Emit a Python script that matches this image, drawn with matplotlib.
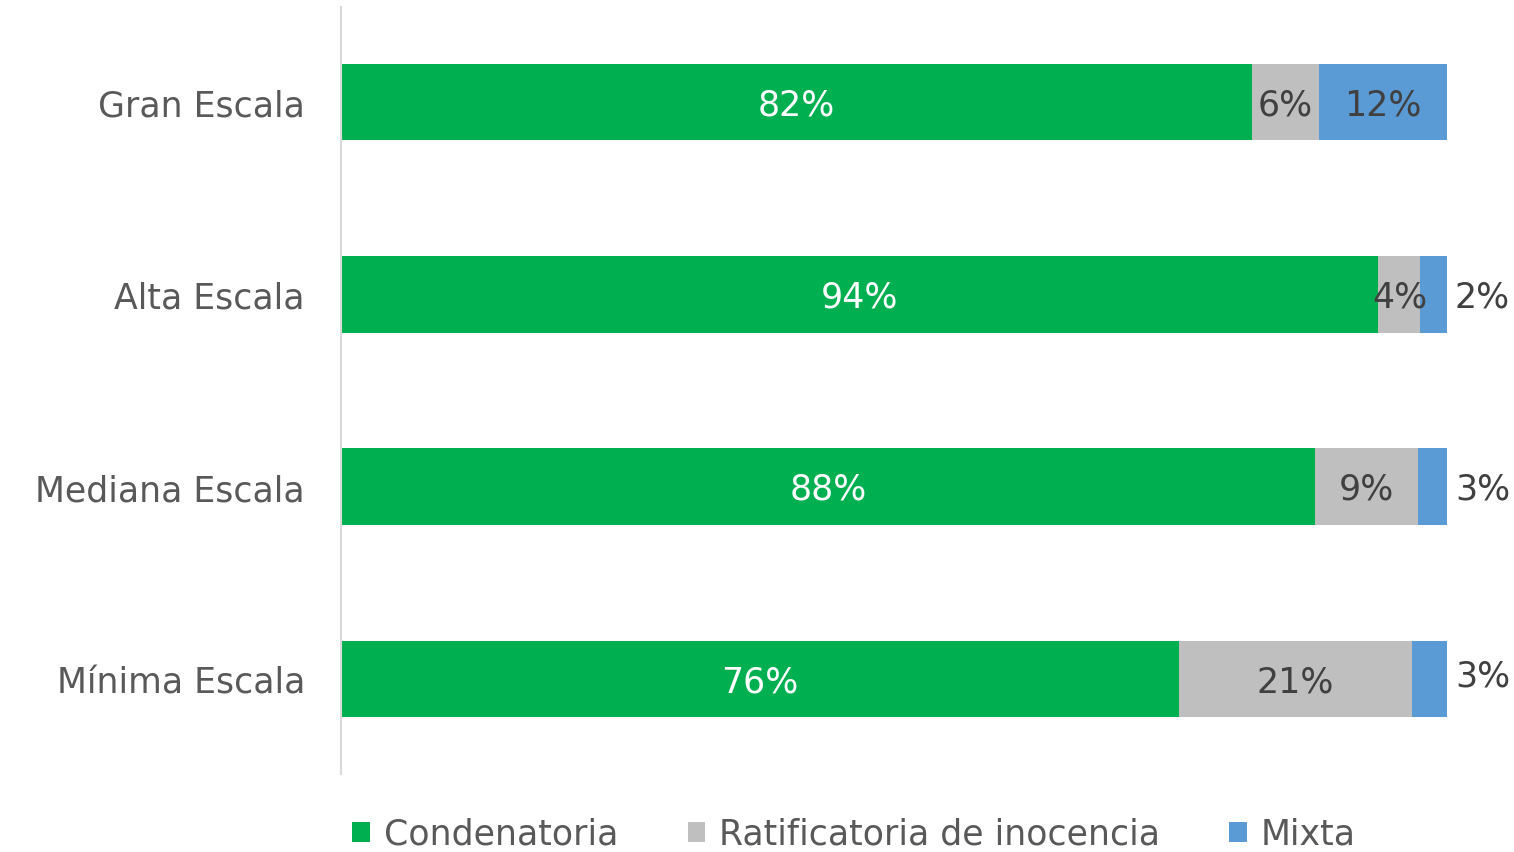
import matplotlib
matplotlib.use("Agg")
import matplotlib.pyplot as plt
from matplotlib.patches import Patch

categories = ["Gran Escala", "Alta Escala", "Mediana Escala", "Mínima Escala"]
series_names = ["Condenatoria", "Ratificatoria de inocencia", "Mixta"]
condenatoria = [82.4, 93.8, 88.1, 75.8]
ratificatoria = [6.0, 3.8, 9.3, 21.0]
mixta = [11.6, 2.4, 2.6, 3.2]
labels_cond = ["82%", "94%", "88%", "76%"]
labels_rat = ["6%", "4%", "9%", "21%"]
labels_mix = ["12%", "2%", "3%", "3%"]

colors = ["#00B050", "#BFBFBF", "#5B9BD5"]
plt.rcParams['font.family'] = ['DejaVu Sans']

fig = plt.figure(figsize=(15.14, 8.53), dpi=100)
ax = fig.add_axes([341/1514, 1-775/853, (1447-341)/1514, 767/853])

y = list(range(len(categories)))
h = 0.40
ax.barh(y, condenatoria, height=h, color=colors[0])
left2 = condenatoria
ax.barh(y, ratificatoria, height=h, left=left2, color=colors[1])
left3 = [a + b for a, b in zip(condenatoria, ratificatoria)]
ax.barh(y, mixta, height=h, left=left3, color=colors[2])

fs = 25
ty = 0.012
for i in y:
    ax.text(condenatoria[i] / 2, i + ty, labels_cond[i], ha='center', va='center',
            color='white', fontsize=fs)
    ax.text(left2[i] + ratificatoria[i] / 2, i + ty, labels_rat[i], ha='center', va='center',
            color='#404040', fontsize=fs)
    if mixta[i] > 5:
        ax.text(left3[i] + mixta[i] / 2, i + ty, labels_mix[i], ha='center', va='center',
                color='#404040', fontsize=fs)
    else:
        dy = -0.03 if i == 3 else 0
        ax.text(103.2, i + dy + ty, labels_mix[i], ha='center', va='center',
                color='#404040', fontsize=fs, clip_on=False)

ax.set_xlim(0, 100)
ax.set_ylim(3.494, -0.494)
ax.set_yticks(y)
ax.set_yticklabels(categories, fontsize=fs, color='#595959')
ax.tick_params(axis='y', length=0, pad=26)
ax.set_xticks([])
for s in ['top', 'right', 'bottom']:
    ax.spines[s].set_visible(False)
ax.spines['left'].set_color('#D9D9D9')
ax.spines['left'].set_linewidth(1.5)

handles = [Patch(facecolor=c, edgecolor='none') for c in colors]
fig.legend(handles, series_names, loc='center', bbox_to_anchor=(854/1514, 1-835/853),
           ncol=3, frameon=False, fontsize=fs, labelcolor='#595959',
           handlelength=0.5, handleheight=0.5, handletextpad=0.4, columnspacing=2.0)

fig.savefig("out.png", dpi=100)
